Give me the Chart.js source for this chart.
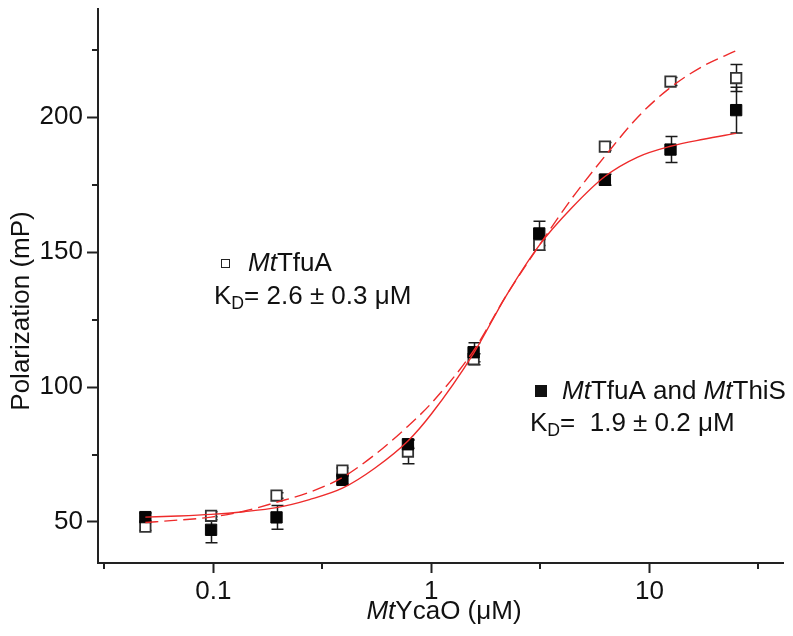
<!DOCTYPE html>
<html lang="en">
<head>
<meta charset="UTF-8" />
<title>MtYcaO binding by fluorescence polarization</title>
<script src="https://cdn.jsdelivr.net/npm/chart.js"></script>
<style>
  body { margin: 0; background: #fff; }
  #wrap { width: 793px; height: 636px; }
</style>
</head>
<body>
<div id="wrap"><canvas id="fp" width="793" height="636"></canvas></div>
<script>
// MtYcaO concentrations (µM), two-fold dilution series
const conc = [0.0488, 0.0977, 0.195, 0.391, 0.781, 1.5625, 3.125, 6.25, 12.5, 25];

// MtTfuA alone (open squares), mean and error in mP
const tfuaMean = [48.3, 52.3, 59.8, 69.0, 76.1, 110.3, 152.7, 189.1, 213.2, 214.5];
const tfuaErr  = [1.5, 1.5, 1.0, 1.0, 4.5, 2.0, 2.0, 1.5, 1.5, 5.0];

// MtTfuA + MtThiS (filled squares)
const thisMean = [51.8, 47.1, 51.7, 65.6, 78.8, 112.9, 156.9, 176.8, 188.0, 202.6];
const thisErr  = [1.5, 4.8, 4.4, 1.5, 1.5, 3.5, 4.5, 2.0, 4.8, 8.5];

// fitted binding curves, sampled along the concentration axis
const fitConc = [0.0488, 0.069, 0.0977, 0.138, 0.195, 0.276, 0.391, 0.552, 0.781, 1.0,
                 1.5625, 2.21, 3.125, 4.42, 6.25, 8.84, 12.5, 17.7, 25];
const tfuaFit = [49.8, 50.7, 51.8, 54.0, 57.3, 61.0, 66.5, 75.0, 85.5, 94.0,
                 113.5, 134.0, 152.5, 170.0, 185.5, 200.0, 211.0, 219.0, 224.6];
const thisFit = [51.8, 52.2, 52.8, 53.8, 55.3, 58.3, 62.5, 70.0, 80.0, 90.0,
                 112.5, 134.0, 152.5, 166.5, 178.0, 185.2, 189.2, 191.8, 194.0];

// axis ticks
const xMajor = [0.1, 1, 10];
const xMinor = [0.0316, 0.316, 3.16, 31.6];
const yMajor = [50, 100, 150, 200];
const yMinor = [75, 125, 175, 225];

const FONT = "'Liberation Sans', Arial, Helvetica, sans-serif";
const INK = '#1a1a1a';
const RED = '#ee2b2b';

const pts = (xs, ys) => xs.map((x, i) => ({ x, y: ys[i] }));

// text made of runs: [text, style], style '' | 'i' (italic) | 'sub'
function runWidth(ctx, runs, size) {
  let w = 0;
  for (const [t, s] of runs) {
    ctx.font = (s === 'i' ? 'italic ' : '') + (s === 'sub' ? size * 0.68 : size) + 'px ' + FONT;
    w += ctx.measureText(t).width;
  }
  return w;
}
function drawRuns(ctx, runs, x, y, size) {
  for (const [t, s] of runs) {
    const fs = s === 'sub' ? size * 0.68 : size;
    ctx.font = (s === 'i' ? 'italic ' : '') + fs + 'px ' + FONT;
    ctx.fillText(t, x, s === 'sub' ? y + size * 0.28 : y);
    x += ctx.measureText(t).width;
  }
}

const errorBars = {
  id: 'errorBars',
  beforeDatasetsDraw(chart) {
    const { ctx, scales: { x, y } } = chart;
    ctx.save();
    ctx.strokeStyle = INK;
    ctx.lineWidth = 1.5;
    [[tfuaMean, tfuaErr], [thisMean, thisErr]].forEach(([m, e]) => {
      conc.forEach((c, i) => {
        const px = Math.round(x.getPixelForValue(c)) + 0.5;
        const top = y.getPixelForValue(m[i] + e[i]);
        const bot = y.getPixelForValue(m[i] - e[i]);
        ctx.beginPath();
        ctx.moveTo(px, top); ctx.lineTo(px, bot);
        ctx.moveTo(px - 6, top); ctx.lineTo(px + 6, top);
        ctx.moveTo(px - 6, bot); ctx.lineTo(px + 6, bot);
        ctx.stroke();
      });
    });
    ctx.restore();
  }
};

const minorTicks = {
  id: 'minorTicks',
  afterDraw(chart) {
    const { ctx, chartArea: a, scales: { x, y } } = chart;
    ctx.save();
    ctx.strokeStyle = '#222';
    ctx.lineWidth = 2;
    ctx.beginPath();
    xMinor.forEach(v => {
      const px = Math.round(x.getPixelForValue(v));
      ctx.moveTo(px, a.bottom); ctx.lineTo(px, a.bottom + 6);
    });
    yMinor.forEach(v => {
      const py = Math.round(y.getPixelForValue(v));
      ctx.moveTo(a.left, py); ctx.lineTo(a.left - 6, py);
    });
    ctx.stroke();
    ctx.restore();
  }
};

const labels = {
  id: 'labels',
  afterDraw(chart) {
    const { ctx } = chart;
    ctx.save();
    ctx.fillStyle = '#111';
    ctx.textBaseline = 'middle';
    ctx.textAlign = 'left';

    // axis titles
    const yTitle = [['Polarization (mP)', '']];
    ctx.save();
    ctx.translate(22, 311);
    ctx.rotate(-Math.PI / 2);
    drawRuns(ctx, yTitle, -runWidth(ctx, yTitle, 26) / 2, 0, 26);
    ctx.restore();

    const xTitle = [['Mt', 'i'], ['YcaO (μM)', '']];
    drawRuns(ctx, xTitle, 444 - runWidth(ctx, xTitle, 26) / 2, 612, 26);

    // MtTfuA note
    ctx.fillStyle = '#fff';
    ctx.strokeStyle = '#222';
    ctx.lineWidth = 1;
    ctx.fillRect(221.5, 259.5, 8, 8);
    ctx.strokeRect(221.5, 259.5, 8, 8);
    ctx.fillStyle = '#111';
    drawRuns(ctx, [['Mt', 'i'], ['TfuA', '']], 248, 264, 26);
    drawRuns(ctx, [['K', ''], ['D', 'sub'], ['= 2.6 ± 0.3 μM', '']], 214, 297, 26);

    // MtTfuA + MtThiS note
    ctx.fillRect(535, 385, 12, 12);
    drawRuns(ctx, [['Mt', 'i'], ['TfuA and ', ''], ['Mt', 'i'], ['ThiS', '']], 562, 392, 26);
    drawRuns(ctx, [['K', ''], ['D', 'sub'], ['=  1.9 ± 0.2 μM', '']], 530, 424, 26);
    ctx.restore();
  }
};

new Chart(document.getElementById('fp'), {
  type: 'scatter',
  data: {
    datasets: [
      {
        label: 'MtTfuA fit',
        data: pts(fitConc, tfuaFit),
        showLine: true,
        borderColor: RED,
        borderWidth: 1.4,
        borderDash: [13, 6],
        pointRadius: 0,
        cubicInterpolationMode: 'monotone'
      },
      {
        label: 'MtTfuA + MtThiS fit',
        data: pts(fitConc, thisFit),
        showLine: true,
        borderColor: RED,
        borderWidth: 1.4,
        pointRadius: 0,
        cubicInterpolationMode: 'monotone'
      },
      {
        label: 'MtTfuA and MtThiS',
        data: pts(conc, thisMean),
        pointStyle: 'rect',
        pointRadius: 8,
        backgroundColor: '#050505',
        borderColor: '#050505',
        borderWidth: 1
      },
      {
        label: 'MtTfuA',
        data: pts(conc, tfuaMean),
        pointStyle: 'rect',
        pointRadius: 7.4,
        backgroundColor: '#fff',
        borderColor: '#333',
        borderWidth: 1.8
      }
    ]
  },
  options: {
    responsive: false,
    devicePixelRatio: 1,
    animation: false,
    layout: { padding: { left: 0, top: 5, right: 10, bottom: 0 } },
    plugins: { legend: { display: false }, tooltip: { enabled: false } },
    scales: {
      x: {
        type: 'logarithmic',
        min: 0.0296,
        max: 41,
        afterFit: s => { s.height = 73; s.paddingLeft = 0; s.paddingRight = 0; },
        afterBuildTicks: s => { s.ticks = xMajor.map(v => ({ value: v })); },
        grid: { drawOnChartArea: false, tickLength: 10, tickWidth: 2, tickColor: '#222' },
        border: { display: true, width: 2, color: '#222' },
        ticks: {
          font: { size: 26, family: FONT },
          color: '#111',
          padding: 3,
          maxRotation: 0,
          autoSkip: false,
          callback: v => String(v)
        }
      },
      y: {
        min: 34.8,
        max: 240,
        afterFit: s => { s.width = 98; s.paddingTop = 0; s.paddingBottom = 0; },
        afterBuildTicks: s => { s.ticks = yMajor.map(v => ({ value: v })); },
        grid: { drawOnChartArea: false, tickLength: 11, tickWidth: 2, tickColor: '#222' },
        border: { display: true, width: 2, color: '#222' },
        ticks: {
          font: { size: 26, family: FONT },
          color: '#111',
          padding: 4
        }
      }
    }
  },
  plugins: [errorBars, minorTicks, labels]
});
</script>
</body>
</html>
